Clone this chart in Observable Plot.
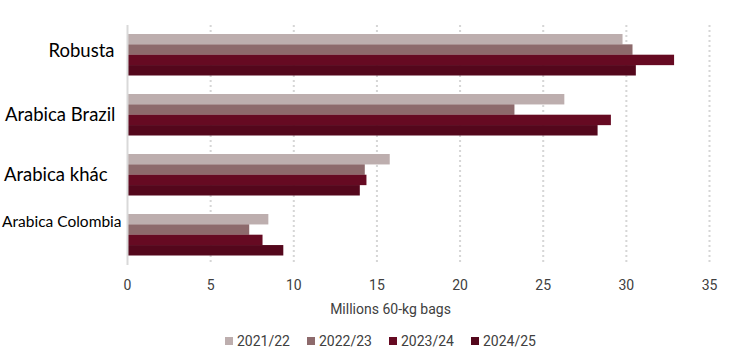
<!DOCTYPE html>
<html>
<head>
<meta charset="utf-8">
<script src="https://cdn.jsdelivr.net/npm/d3@7"></script>
<script src="https://cdn.jsdelivr.net/npm/@observablehq/plot@0.6"></script>
<style>
  html, body { margin: 0; padding: 0; background: #fff; }
  #chart svg { display: block; }
  #legend { display: flex; align-items: center; height: 38px; padding-left: 225px;
            font-family: Roboto, sans-serif; font-size: 14px; color: #404040; }
  #legend .item { display: flex; align-items: center; width: 82px; }
  #legend .sw { width: 8px; height: 8px; margin-right: 4px; }
</style>
</head>
<body>
<div id="chart"></div>
<div id="legend"></div>
<script>
// ---- data ----
const categories = ["Robusta", "Arabica Brazil", "Arabica khác", "Arabica Colombia"];
const seasons = ["2021/22", "2022/23", "2023/24", "2024/25"];
const robusta = [29.8, 30.4, 32.9, 30.6];
const arabicaBrazil = [26.3, 23.3, 29.1, 28.3];
const arabicaKhac = [15.8, 14.3, 14.4, 14.0];
const arabicaColombia = [8.5, 7.35, 8.15, 9.4];
const xTicks = [0, 5, 10, 15, 20, 25, 30, 35];
const xLabel = "Millions 60-kg bags";

// ---- styles ----
const colors = ["#bdaeae", "#8d6a6c", "#660a22", "#54071c"];
const labelStyle = {
  "Robusta": {size: 18.5, dx: -13, dy: -4},
  "Arabica Brazil": {size: 18.5, dx: -12, dy: 0},
  "Arabica khác": {size: 18.5, dx: -20, dy: 0},
  "Arabica Colombia": {size: 15.5, dx: -6, dy: -13}
};

const seriesValues = [robusta, arabicaBrazil, arabicaKhac, arabicaColombia];
const rows = [];
categories.forEach((c, ci) => seasons.forEach((s, si) => rows.push({category: c, season: s, value: seriesValues[ci][si]})));

const W = 746, H = 322, mTop = 25, mBottom = 57, mLeft = 127, mRight = 37;
const yOpts = {type: "band", domain: categories, range: [mTop, H - mBottom], paddingInner: 0.31, paddingOuter: 0.155};
const bw = Plot.scale({y: yOpts}).bandwidth;
const n = seasons.length;

const barMarks = seasons.map((s, i) => Plot.barX(rows.filter(r => r.season === s), {
  x: "value", y: "category", fill: colors[i],
  insetTop: i * bw / n, insetBottom: (n - 1 - i) * bw / n - 0.5
}));

const labelMarks = categories.map(c => Plot.text([c], {
  x: 0, y: d => d, text: d => d, textAnchor: "end",
  dx: labelStyle[c].dx, dy: labelStyle[c].dy, fontSize: labelStyle[c].size,
  fontFamily: "Lato, sans-serif", fill: "#000"
}));

const chart = Plot.plot({
  width: W, height: H,
  marginTop: mTop, marginBottom: mBottom, marginLeft: mLeft, marginRight: mRight,
  style: {fontFamily: "Roboto, sans-serif", fontSize: "14px", color: "#404040", background: "#fff"},
  x: {domain: [0, 35]},
  y: {...yOpts, axis: null},
  marks: [
    Plot.ruleX(xTicks.filter(d => d > 0), {stroke: "#d6d6d6", strokeWidth: 2, strokeDasharray: "2,3"}),
    ...barMarks,
    Plot.ruleX([0], {stroke: "#d9d9d9", strokeWidth: 2}),
    Plot.axisX({ticks: xTicks, tickSize: 0, tickPadding: 15, fontSize: 14, label: null, tickFormat: d => String(d)}),
    Plot.text([xLabel], {frameAnchor: "bottom", text: d => d, dx: -28, dy: 44, lineAnchor: "middle", fontSize: 14, fill: "#404040"}),
    ...labelMarks
  ]
});
document.getElementById("chart").appendChild(chart);

const legend = document.getElementById("legend");
seasons.forEach((s, i) => {
  const item = document.createElement("div");
  item.className = "item";
  const sw = document.createElement("span");
  sw.className = "sw";
  sw.style.background = colors[i];
  const t = document.createElement("span");
  t.textContent = s;
  item.appendChild(sw); item.appendChild(t);
  legend.appendChild(item);
});
</script>
</body>
</html>
